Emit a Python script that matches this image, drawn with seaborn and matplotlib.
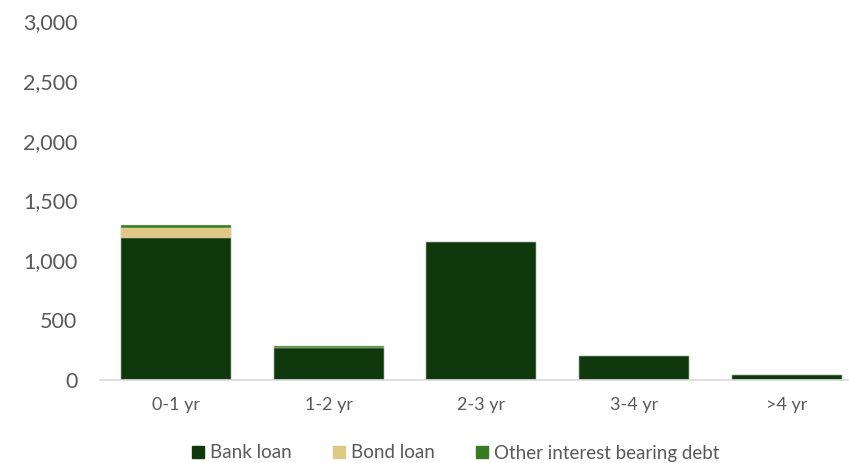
import matplotlib
matplotlib.use("Agg")
import matplotlib.pyplot as plt
import seaborn as sns
import pandas as pd
from matplotlib.lines import Line2D

categories = ["0-1 yr", "1-2 yr", "2-3 yr", "3-4 yr", ">4 yr"]
bank_loan = [1190, 265, 1150, 200, 42]
bond_loan = [82, 0, 0, 0, 0]
other_debt = [22, 15, 0, 0, 0]
series_names = ["Bank loan", "Bond loan", "Other interest bearing debt"]
yticks = [0, 500, 1000, 1500, 2000, 2500, 3000]

colors = {"Bank loan": "#10380D", "Bond loan": "#DFC884", "Other interest bearing debt": "#3A7A22"}

sns.set_theme(style="white")
plt.rcParams["font.family"] = ["Lato", "DejaVu Sans"]

df = pd.DataFrame({"cat": categories, "bank": bank_loan, "bond": bond_loan, "other": other_debt})
df["lvl1"] = df["bank"]
df["lvl2"] = df["bank"] + df["bond"]
df["lvl3"] = df["lvl2"] + df["other"]

fig = plt.figure(figsize=(8.49, 4.63), dpi=100)
ax = fig.add_axes([99.6 / 849, 83 / 463, 763.7 / 849, 359 / 463])

for col, name in [("lvl3", "Other interest bearing debt"), ("lvl2", "Bond loan"), ("lvl1", "Bank loan")]:
    sns.barplot(data=df, x="cat", y=col, color=colors[name], width=0.72, ax=ax,
                edgecolor="#C9D3C6", linewidth=0.35, saturation=1, order=categories)

ax.set_ylim(0, 3000)
ax.set_yticks(yticks)
ax.set_yticklabels([f"{v:,}" for v in yticks])
ax.set_xlabel("")
ax.set_ylabel("")
for s in ["top", "right", "left"]:
    ax.spines[s].set_visible(False)
ax.spines["bottom"].set_color("#D9D9D9")
ax.spines["bottom"].set_linewidth(1.2)
ax.tick_params(axis="y", length=0, pad=16, labelsize=15.5, labelcolor="#595959")
ax.tick_params(axis="x", length=0, pad=12, labelsize=13, labelcolor="#595959")

handles = [Line2D([0], [0], marker="s", linestyle="", markersize=9,
                  markerfacecolor=colors[n], markeredgecolor=colors[n]) for n in series_names]
fig.legend(handles, series_names, loc="center", bbox_to_anchor=(454 / 849, 1 - 453 / 463),
           ncol=3, frameon=False, fontsize=13.5, labelcolor="#595959",
           handletextpad=0.15, columnspacing=2.0, handlelength=1.0)

fig.savefig("out.png", dpi=100)
